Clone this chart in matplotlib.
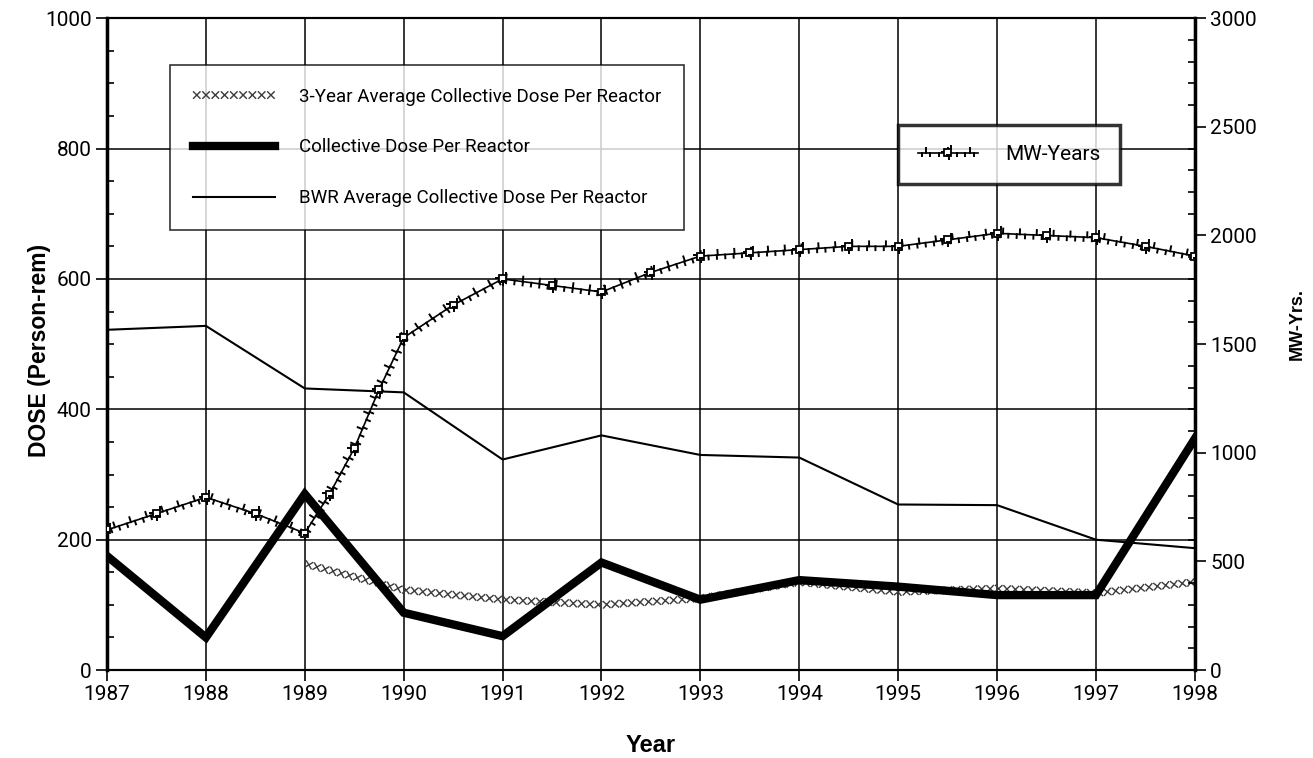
import matplotlib
matplotlib.use('Agg')
import matplotlib.pyplot as plt
import matplotlib.patheffects as pe
from matplotlib.ticker import MultipleLocator

# narrow-ish face for ticks and legends, plain bold for axis titles
plt.rcParams['font.family'] = ['Roboto', 'DejaVu Sans']
bold_fam = ['Liberation Sans', 'DejaVu Sans']

# data
years = [1987, 1988, 1989, 1990, 1991, 1992, 1993, 1994, 1995, 1996, 1997, 1998]
bwr_avg = [522, 528, 432, 426, 323, 360, 330, 326, 254, 253, 200, 187]
coll_dose = [175, 50, 270, 88, 52, 165, 108, 138, 128, 115, 115, 355]
avg3_years = [1989, 1990, 1991, 1992, 1993, 1994, 1995, 1996, 1997, 1998]
avg3_dose = [163, 123, 108, 100, 110, 135, 120, 125, 118, 135]
mw_t = [1987, 1987.5, 1988, 1988.5, 1989, 1989.25, 1989.5, 1989.75, 1990, 1990.5,
        1991, 1991.5, 1992, 1992.5, 1993, 1993.5, 1994, 1994.5, 1995, 1995.5,
        1996, 1996.5, 1997, 1997.5, 1998]
mw_years = [645, 720, 795, 720, 630, 810, 1020, 1290, 1530, 1680,
            1800, 1770, 1740, 1830, 1905, 1920, 1935, 1950, 1950, 1980,
            2010, 2000, 1990, 1950, 1905]

fig = plt.figure(figsize=(13.13, 7.58), dpi=100)
ax = fig.add_axes([0.0815, 0.116, 0.8285, 0.860])
ax2 = ax.twinx()

ax.set_xlim(1987, 1998)
ax.set_ylim(0, 1000)
ax2.set_ylim(0, 3000)

ax.grid(True, which='major', color='black', lw=1.1)
ax.set_axisbelow(True)

# x-ed 3 year average line: ticks on both sides, no base stroke
xc = '#3a3a3a'
xfx = [pe.TickedStroke(angle=a, spacing=6, length=0.55, linewidth=1.0, foreground=xc)
       for a in (45, -135, 135, -45)]
l1, = ax.plot(avg3_years, avg3_dose, color='none', lw=1,
              label='3-Year Average Collective Dose Per Reactor', zorder=3)
l1.set_path_effects(xfx)
l2, = ax.plot(years, coll_dose, color='black', lw=6,
              label='Collective Dose Per Reactor', zorder=4, solid_joinstyle='miter')
l3, = ax.plot(years, bwr_avg, color='black', lw=1.5,
              label='BWR Average Collective Dose Per Reactor', zorder=3)

mwfx = [pe.Normal(),
        pe.TickedStroke(angle=-90, spacing=6, length=0.45, linewidth=1.4),
        pe.TickedStroke(angle=90, spacing=12, length=0.3, linewidth=1.4)]
m1, = ax2.plot(mw_t, mw_years, color='black', lw=1.2, marker='s', ms=5,
               mfc='white', mec='black', mew=1.3, label='MW-Years', zorder=5)
m1.set_path_effects(mwfx)
ax2.set_zorder(ax.get_zorder() + 1)
ax2.patch.set_visible(False)

# ticks
ax.set_xticks(years)
ax.yaxis.set_major_locator(MultipleLocator(200))
ax.yaxis.set_minor_locator(MultipleLocator(50))
ax2.yaxis.set_major_locator(MultipleLocator(500))
ax2.yaxis.set_minor_locator(MultipleLocator(100))
ax.tick_params(axis='both', which='major', direction='out', length=8, width=1.2,
               labelsize=15, pad=3)
ax.tick_params(axis='y', which='minor', direction='in', length=5, width=1.2)
ax2.tick_params(axis='y', which='major', direction='out', length=8, width=1.2,
                labelsize=15, pad=3)
ax2.tick_params(axis='y', which='minor', direction='in', length=5, width=1.2)

for a in (ax, ax2):
    for s in a.spines.values():
        s.set_linewidth(1.5)
ax.spines['left'].set_linewidth(2.5)
ax2.spines['right'].set_linewidth(2.5)

# axis titles placed in figure pixels
fig.text(651 / 1313, 1 - 745 / 758, 'Year', fontsize=17, fontweight='bold',
         family=bold_fam, ha='center', va='center')
fig.text(40 / 1313, 1 - 350 / 758, 'DOSE (Person-rem)', fontsize=16.5, fontweight='bold',
         family=bold_fam, ha='center', va='center', rotation=90)
fig.text(1297 / 1313, 1 - 324 / 758, 'MW-Yrs.', fontsize=13, fontweight='bold',
         family=bold_fam, ha='center', va='center', rotation=90)

leg = ax.legend(handles=[l1, l2, l3], loc='upper left', bbox_to_anchor=(0.058, 0.928),
                fontsize=13.5, frameon=True, fancybox=False, handlelength=4.4,
                borderpad=1.2, labelspacing=1.75, handletextpad=1.3, borderaxespad=0)
leg.get_frame().set_edgecolor('black')
leg.get_frame().set_linewidth(1.2)
leg.set_zorder(10)

leg2 = ax2.legend(handles=[m1], loc='upper left', bbox_to_anchor=(0.727, 0.836),
                  fontsize=15, frameon=True, fancybox=False, handlelength=2.9,
                  borderpad=0.95, handletextpad=1.3, borderaxespad=0)
leg2.get_frame().set_edgecolor('black')
leg2.get_frame().set_linewidth(2.5)

fig.savefig('out.png', dpi=100)
